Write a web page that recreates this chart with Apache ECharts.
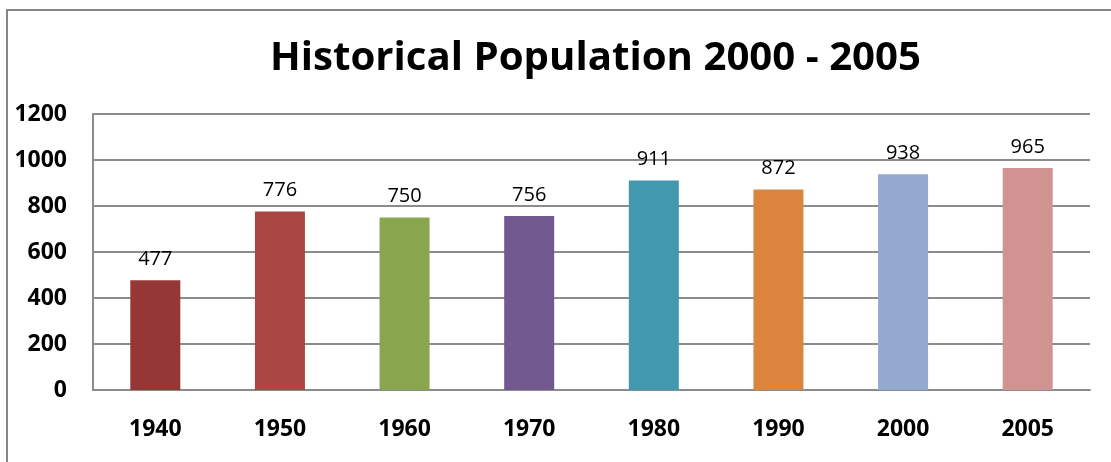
<!DOCTYPE html>
<html>
<head>
<meta charset="utf-8">
<script src="https://cdn.jsdelivr.net/npm/echarts@6/dist/echarts.min.js"></script>
<style>
html,body{margin:0;padding:0;background:#fff;}
#chart{width:1111px;height:462px;}
</style>
</head>
<body>
<div id="chart"></div>
<script>
const titleText = 'Historical Population 2000 - 2005';
const categories = ['1940', '1950', '1960', '1970', '1980', '1990', '2000', '2005'];
const values = [477, 776, 750, 756, 911, 872, 938, 965];
const barColors = ['#953735', '#AA4643', '#89A54E', '#71588F', '#4198AF', '#DB843D', '#93A9CF', '#D19392'];
const yTicks = [0, 200, 400, 600, 800, 1000, 1200];

const FONT = '"Open Sans", Lato, sans-serif';
const chart = echarts.init(document.getElementById('chart'));
chart.setOption({
  animation: false,
  backgroundColor: '#fff',
  title: {
    text: titleText,
    left: 265,
    top: 34,
    textStyle: { fontFamily: FONT, fontWeight: 'bold', fontSize: 40.2, color: '#000' }
  },
  graphic: [{
    type: 'rect',
    shape: { x: 7, y: 10, width: 1200, height: 600 },
    style: { fill: 'none', stroke: '#868686', lineWidth: 2 },
    silent: true
  }],
  grid: { left: 93, right: 21, top: 114, bottom: 72 },
  xAxis: {
    type: 'category',
    data: categories,
    axisLine: { show: true, lineStyle: { color: '#8c8c8c', width: 2 } },
    axisTick: { show: false },
    axisLabel: { margin: 28, fontFamily: FONT, fontWeight: 'bold', fontSize: 23, color: '#000' }
  },
  yAxis: {
    type: 'value',
    min: yTicks[0],
    max: yTicks[yTicks.length - 1],
    interval: yTicks[1] - yTicks[0],
    axisLine: { show: true, lineStyle: { color: '#8c8c8c', width: 2 } },
    axisTick: { show: false },
    splitLine: { show: true, lineStyle: { color: '#8c8c8c', width: 2 } },
    axisLabel: { margin: 26, fontFamily: FONT, fontWeight: 'bold', fontSize: 23, color: '#000', formatter: v => String(v) }
  },
  series: [{
    type: 'bar',
    data: values.map((v, i) => ({ value: v, itemStyle: { color: barColors[i] } })),
    barWidth: 50,
    label: {
      show: true,
      position: 'top',
      distance: 11,
      fontFamily: FONT,
      fontSize: 20,
      color: '#000'
    }
  }]
});
</script>
</body>
</html>
